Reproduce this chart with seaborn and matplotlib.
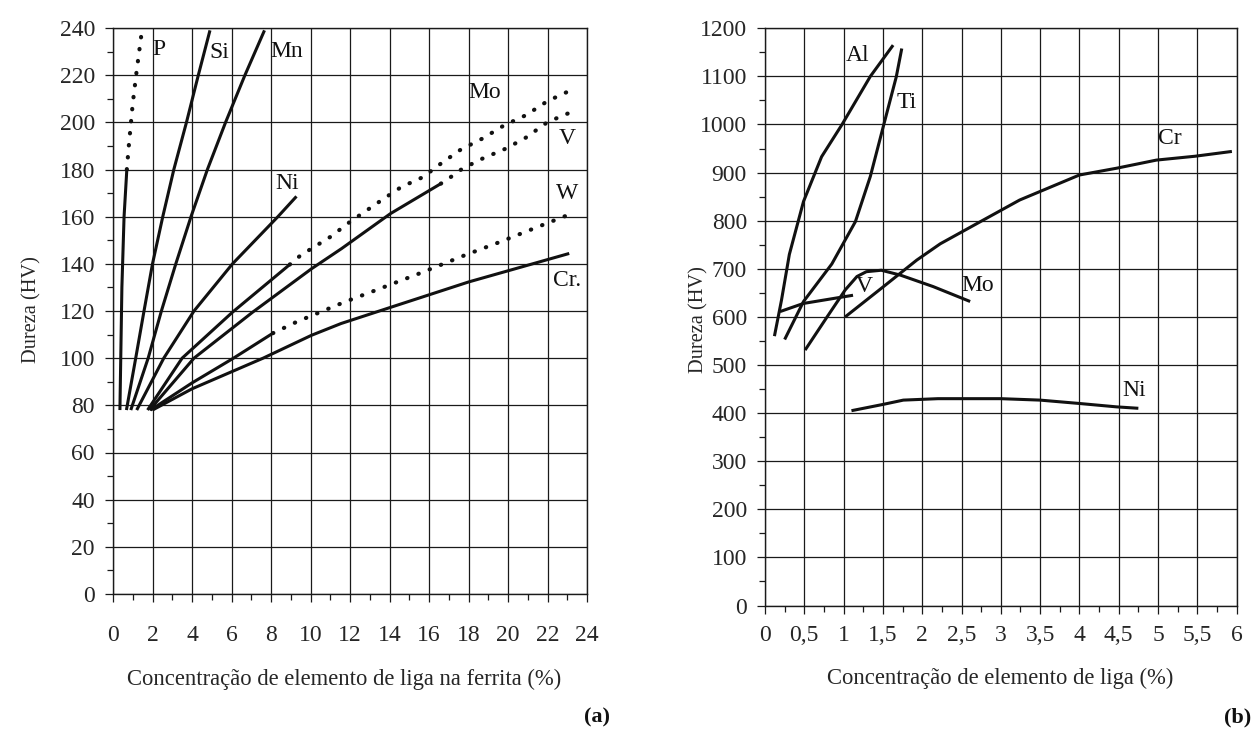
import numpy as np
import pandas as pd
import matplotlib
matplotlib.use("Agg")
import matplotlib.pyplot as plt
from matplotlib.ticker import MultipleLocator, FixedLocator, FixedFormatter
import seaborn as sns

# ---------------- (a) hardness of ferrite vs. alloy content ----------------
P_x = [0.35, 0.45, 0.56, 0.70]
P_hv = [78, 130, 160, 180]
P_dot_x = [0.70, 0.80, 1.00, 1.20, 1.45]
P_dot_hv = [180, 190, 208, 222, 238]

Si_x = [0.68, 1.15, 1.57, 2.00, 2.52, 3.08, 3.72, 4.32, 4.91]
Si_hv = [78, 100, 120, 140, 160, 180, 200, 220, 239]

Mn_x = [0.90, 1.78, 2.45, 3.18, 3.95, 4.78, 5.70, 6.68, 7.67]
Mn_hv = [78, 100, 120, 140, 160, 180, 200, 220, 239]

Ni_x = [1.20, 2.57, 4.10, 6.05, 8.35, 9.29]
Ni_hv = [78, 100, 120, 140, 160, 168.6]

Mo_x = [1.75, 3.50, 6.05, 8.95]
Mo_hv = [78, 100, 119.5, 139.7]
Mo_dot_x = [8.95, 9.50, 11.0, 12.0, 13.6, 14.6, 15.7, 16.6, 17.6, 18.7, 19.8, 20.9, 22.0, 23.1]
Mo_dot_hv = [139.7, 143.6, 151.4, 157.8, 167.0, 172.6, 176.8, 182.5, 188.4, 193.1, 198.7, 203.0, 209.0, 213.3]

V_x = [1.85, 4.10, 7.07, 10.05, 11.58, 14.05, 16.6]
V_hv = [78, 100, 119.5, 137.9, 146.5, 161.3, 174.0]
V_dot_x = [16.6, 17.1, 17.7, 18.7, 19.9, 20.9, 22.0, 23.1]
V_dot_hv = [174.0, 176.8, 180.4, 184.6, 188.9, 193.5, 200.1, 204.0]

W_x = [1.90, 4.00, 6.10, 8.10]
W_hv = [78, 89.5, 100, 110.6]
W_dot_x = [8.10, 9.30, 11.75, 13.3, 15.6, 17.8, 19.6, 22.0, 23.1]
W_dot_hv = [110.6, 115.4, 123.9, 128.8, 136.2, 143.6, 149.3, 157.3, 160.9]

Cr_a_x = [2.00, 4.00, 7.60, 10.05, 11.55, 14.0, 18.0, 23.1]
Cr_a_hv = [78, 87, 100, 109.7, 114.7, 121.4, 132.3, 144.4]

labels_a = ["P", "Si", "Mn", "Ni", "Mo", "V", "W", "Cr."]
labels_a_x = [2.0, 4.9, 7.95, 8.2, 18.0, 22.55, 22.45, 22.3]
labels_a_hv = [231, 229.5, 230, 174, 212.5, 193, 170, 133]

# ---------------- (b) hardness vs. alloy content ----------------
Al_x = [0.12, 0.21, 0.31, 0.49, 0.72, 0.98, 1.34, 1.63]
Al_hv = [560, 635, 730, 840, 933, 1000, 1100, 1165]

Ti_x = [0.25, 0.49, 0.85, 1.15, 1.34, 1.51, 1.67, 1.74]
Ti_hv = [553, 632, 710, 798, 892, 999, 1099, 1158]

Cr_b_x = [1.02, 1.50, 1.93, 2.23, 2.74, 3.24, 4.00, 4.47, 4.98, 5.47, 5.94]
Cr_b_hv = [600, 662, 718, 752, 798, 843, 895, 909, 926, 934, 944]

V_b_x = [0.19, 0.49, 1.12]
V_b_hv = [611, 628, 645]

Mo_b_x = [0.51, 0.79, 1.02, 1.17, 1.29, 1.48, 1.72, 2.14, 2.61]
Mo_b_hv = [531, 600, 656, 684, 694, 697, 687, 663, 632]

Ni_b_x = [1.10, 1.50, 1.76, 2.20, 3.00, 3.50, 4.00, 4.47, 4.75]
Ni_b_hv = [405, 418, 427, 430, 430, 427, 420, 413, 410]

labels_b = ["Al", "Ti", "Cr", "V", "Mo", "Ni"]
labels_b_x = [1.03, 1.67, 5.0, 1.16, 2.5, 4.55]
labels_b_hv = [1144, 1046, 971, 664, 666, 446]

xticks_b = [0, 0.5, 1, 1.5, 2, 2.5, 3, 3.5, 4, 4.5, 5, 5.5, 6]
xticklabels_b = ["0", "0,5", "1", "1,5", "2", "2,5", "3", "3,5", "4", "4,5", "5", "5,5", "6"]

xlabel_a = "Concentração de elemento de liga na ferrita (%)"
xlabel_b = "Concentração de elemento de liga (%)"
ylabel = "Dureza (HV)"

# ---------------- style ----------------
sns.set_theme(style="white")
plt.rcParams["font.family"] = ["Liberation Serif", "DejaVu Serif"]
plt.rcParams["axes.edgecolor"] = "black"
plt.rcParams["axes.linewidth"] = 1.0

INK = "#111111"
LW = 2.2
DOTS = (0, (0.1, 2.8))
TICK_FS = 17
XLAB_FS = 16.3
YLAB_FS = 14.7
TXT_FS = 17

fig = plt.figure(figsize=(12.55, 7.31), dpi=100)
ax_a = fig.add_axes([113 / 1255, 1 - 594 / 731, 474 / 1255, 566 / 731])
ax_b = fig.add_axes([765 / 1255, 1 - 605.5 / 731, 471.6 / 1255, 577.2 / 731])


def curve(ax, x, y, dotted=False):
    df = pd.DataFrame({"x": x, "y": y})
    kw = dict(color=INK, lw=LW if not dotted else 3.0, sort=False,
              estimator=None, legend=False)
    if dotted:
        kw.update(linestyle=DOTS, dash_capstyle="round")
    else:
        kw.update(solid_capstyle="butt", solid_joinstyle="round")
    sns.lineplot(data=df, x="x", y="y", ax=ax, **kw)


def frame(ax):
    ax.grid(True, which="major", color="#1a1a1a", lw=0.9)
    ax.set_axisbelow(True)
    for s in ax.spines.values():
        s.set_color("#1a1a1a")
        s.set_linewidth(1.0)
    ax.tick_params(which="both", direction="out", color="#1a1a1a",
                   left=True, bottom=True, labelsize=TICK_FS)
    ax.tick_params(which="major", length=6, width=0.9)
    ax.tick_params(which="minor", length=4, width=0.9)
    ax.set_xlabel("")
    ax.set_ylabel("")


# panel (a)
for xs, ys in [(P_x, P_hv), (Si_x, Si_hv), (Mn_x, Mn_hv), (Ni_x, Ni_hv),
               (Mo_x, Mo_hv), (V_x, V_hv), (W_x, W_hv), (Cr_a_x, Cr_a_hv)]:
    curve(ax_a, xs, ys)
for xs, ys in [(P_dot_x, P_dot_hv), (Mo_dot_x, Mo_dot_hv),
               (V_dot_x, V_dot_hv), (W_dot_x, W_dot_hv)]:
    curve(ax_a, xs, ys, dotted=True)
for t, x, y in zip(labels_a, labels_a_x, labels_a_hv):
    ax_a.text(x, y, t, fontsize=TXT_FS, va="center", ha="left", color=INK)

ax_a.set_xlim(0, 24)
ax_a.set_ylim(0, 240)
ax_a.xaxis.set_major_locator(MultipleLocator(2))
ax_a.xaxis.set_minor_locator(MultipleLocator(1))
ax_a.yaxis.set_major_locator(MultipleLocator(20))
ax_a.yaxis.set_minor_locator(MultipleLocator(10))
frame(ax_a)
ax_a.tick_params(axis="x", which="major", pad=16)
ax_a.tick_params(axis="y", which="major", pad=7)
ax_a.set_xlabel(xlabel_a, fontsize=XLAB_FS)
ax_a.set_ylabel(ylabel, fontsize=YLAB_FS)
ax_a.xaxis.set_label_coords(0.487, -0.1325)
ax_a.yaxis.set_label_coords(-0.15, 0.502)

# panel (b)
for xs, ys in [(Al_x, Al_hv), (Ti_x, Ti_hv), (Cr_b_x, Cr_b_hv),
               (V_b_x, V_b_hv), (Mo_b_x, Mo_b_hv), (Ni_b_x, Ni_b_hv)]:
    curve(ax_b, xs, ys)
for t, x, y in zip(labels_b, labels_b_x, labels_b_hv):
    ax_b.text(x, y, t, fontsize=TXT_FS, va="center", ha="left", color=INK)

ax_b.set_xlim(0, 6)
ax_b.set_ylim(0, 1200)
ax_b.xaxis.set_major_locator(FixedLocator(xticks_b))
ax_b.xaxis.set_major_formatter(FixedFormatter(xticklabels_b))
ax_b.xaxis.set_minor_locator(MultipleLocator(0.25))
ax_b.yaxis.set_major_locator(MultipleLocator(100))
ax_b.yaxis.set_minor_locator(MultipleLocator(50))
frame(ax_b)
ax_b.tick_params(axis="x", which="major", pad=8)
ax_b.tick_params(axis="y", which="major", pad=7)
ax_b.set_xlabel(xlabel_b, fontsize=XLAB_FS)
ax_b.set_ylabel(ylabel, fontsize=YLAB_FS)
ax_b.xaxis.set_label_coords(0.498, -0.108)
ax_b.yaxis.set_label_coords(-0.119, 0.495)

fig.text(597 / 1255, 1 - 717 / 731, "(a)", fontsize=16, fontweight="bold",
         ha="center", va="center", color=INK)
fig.text(1238 / 1255, 1 - 717 / 731, "(b)", fontsize=16, fontweight="bold",
         ha="center", va="center", color=INK)

fig.savefig("out.png", dpi=100, facecolor="white")
